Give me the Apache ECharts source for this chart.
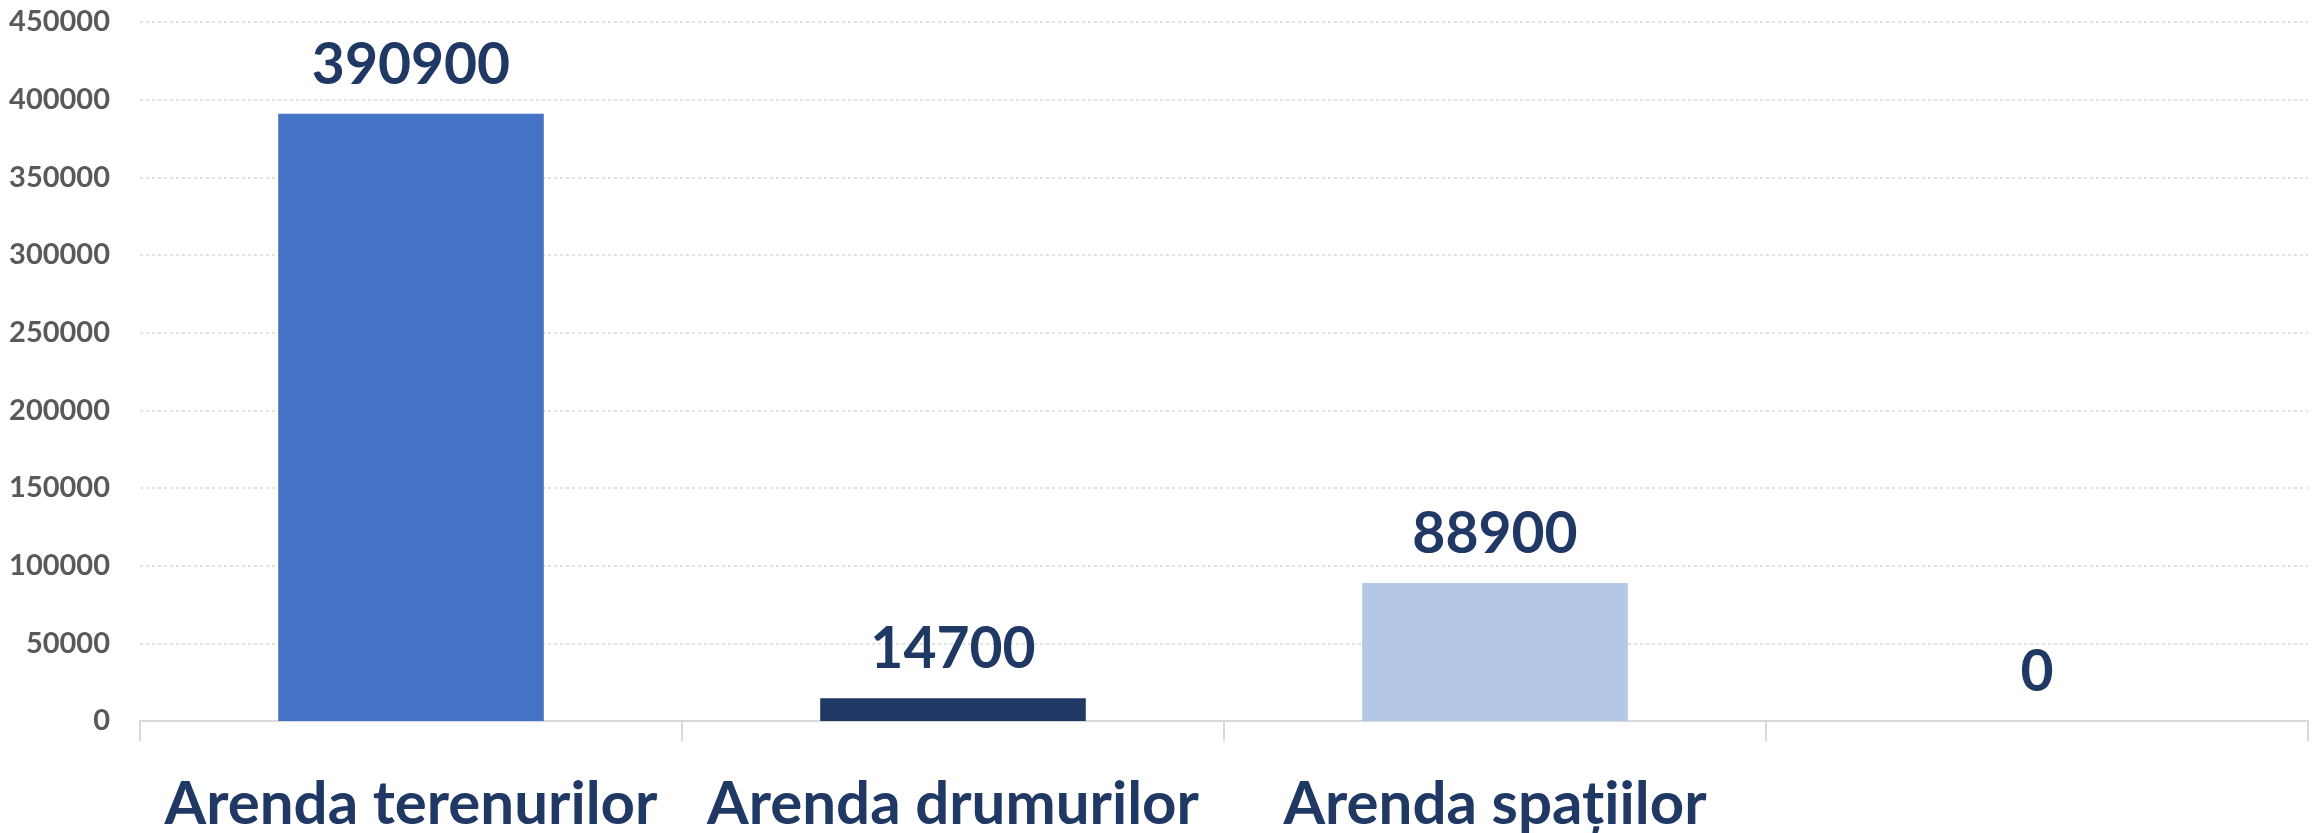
<!DOCTYPE html>
<html>
<head>
<meta charset="utf-8">
<script src="https://cdn.jsdelivr.net/npm/echarts@6/dist/echarts.min.js"></script>
<style>
  html, body { margin: 0; padding: 0; background: #fff; }
  #chart { width: 2320px; height: 833px; }
</style>
</head>
<body>
<div id="chart"></div>
<script>
// categories on the x axis (last one has no label)
var categories = ['Arenda terenurilor', 'Arenda drumurilor', 'Arenda spațiilor', ''];
// values per category
var values = [390900, 14700, 88900, 0];
// bar colours, one per category
var barColors = ['#4472C4', '#203864', '#B4C7E7', '#A5A5A5'];

var yMax = 450000;
var yStep = 50000;

var FONT = 'Lato, "Open Sans", sans-serif';

var chart = echarts.init(document.getElementById('chart'));

var seriesData = values.map(function (v, i) {
  return { value: v, itemStyle: { color: barColors[i] } };
});

chart.setOption({
  animation: false,
  grid: {
    left: 140,
    right: 12,
    top: 22,
    bottom: 112,
    outerBoundsMode: 'none'
  },
  xAxis: {
    type: 'category',
    data: categories,
    axisLine: { lineStyle: { color: '#d9d9d9', width: 2 } },
    axisTick: { show: true, length: 20, lineStyle: { color: '#d9d9d9', width: 2 } },
    axisLabel: {
      color: '#203864',
      fontFamily: FONT,
      fontWeight: 'bold',
      fontSize: 60,
      margin: 54,
      interval: 0
    }
  },
  yAxis: {
    type: 'value',
    min: 0,
    max: yMax,
    interval: yStep,
    axisLine: { show: false },
    axisTick: { show: false },
    splitLine: { lineStyle: { color: '#d9d9d9', type: [3, 3], width: 1.5 } },
    axisLabel: {
      color: '#595959',
      fontFamily: FONT,
      fontWeight: 'bold',
      fontSize: 29,
      margin: 30,
      formatter: function (v) { return String(v); }
    }
  },
  series: [{
    type: 'bar',
    data: seriesData,
    barWidth: '49%',
    label: {
      show: true,
      position: 'top',
      distance: 20,
      color: '#203864',
      fontFamily: FONT,
      fontWeight: 'bold',
      fontSize: 57
    }
  }]
});
</script>
</body>
</html>
